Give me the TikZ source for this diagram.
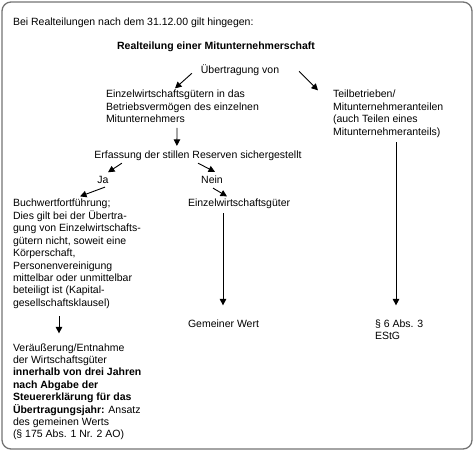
\documentclass[tikz,border=0pt]{standalone}
\usepackage{fontspec}
\setmainfont{Liberation Sans}
\usetikzlibrary{arrows.meta,calc}
\tikzset{
  txt/.style={inner sep=0pt, outer sep=0pt, align=left, anchor=base west},
  ctr/.style={inner sep=0pt, outer sep=0pt, align=center, anchor=base},
  ar/.style={-{Triangle[length=6.5bp,width=6.5bp]}, line width=0.9bp, draw=black},
  frame/.style={draw=black!55, line width=1.3bp, rounded corners=9bp},
}

\begin{document}
\begin{tikzpicture}[x=1bp,y=-1bp,
  font=\fontsize{10.5bp}{12.4bp}\selectfont,
  hdr/.style={ctr, font=\fontsize{10.5bp}{12.4bp}\selectfont\bfseries},
]
\useasboundingbox (0,0) rectangle (474,452);
\draw[frame] (2,2) rectangle (472,449);

% ===================== HEADER =====================
% (multi-line nodes sit on the baseline of their last line)
\node[txt] (intro) at (13,26) {Bei Realteilungen nach dem 31.12.00 gilt hingegen:};
\node[hdr] (head) at (216,50) {Realteilung einer Mitunternehmerschaft};
\node[ctr] (ueb) at (240,74) {Übertragung von};

% ===================== TWO BRANCHES =====================
\node[txt] (ein) at (106,122.8)
  {Einzelwirtschaftsgütern in das\\Betriebsvermögen des einzelnen\\Mitunternehmers};
\node[txt] (teil) at (333,135.2)
  {Teilbetrieben/\\Mitunternehmeranteilen\\(auch Teilen eines\\Mitunternehmeranteils)};
\draw[ar] ($(ueb.west)+(-9,2.6)$) -- ($(ein.north west)+(69,-2)$);
\draw[ar] ($(ueb.east)+(20,0.6)$) -- ($(teil.north west)+(-15,0)$);

% ===================== STILLE RESERVEN =====================
\node[ctr] (erf) at (198,159) {Erfassung der stillen Reserven sichergestellt};
\draw[ar] ($(ein.south west)+(71,5)$) -- ($(erf.north west)+(82.5,-5.5)$);
\node[ctr] (ja) at (103,184) {Ja};
\node[ctr] (nein) at (212,184) {Nein};
\draw[ar] ($(erf.south west)+(27.5,2)$) -- ($(ja.north)+(5,-4.5)$);
\draw[ar] ($(erf.south)+(0,2)$) -- ($(nein.north)+(3,-4.5)$);

% ===================== RESULTS =====================
\node[txt] (buch) at (13,306.2)
  {Buchwertfortführung;\\Dies gilt bei der Übertra-\\gung von Einzelwirtschafts-\\gütern nicht, soweit eine\\Körperschaft,\\Personenvereinigung\\mittelbar oder unmittelbar\\beteiligt ist (Kapital-\\gesellschaftsklausel)};
\node[txt] (ewg) at (188,207) {Einzelwirtschaftsgüter};
\draw[ar] ($(ja.south)+(2,3)$) -- ($(buch.north west)+(67,-3)$);
\draw[ar] ($(nein.south)+(1,4)$) -- ($(ewg.north west)+(39,-3)$);

\node[txt] (gem) at (188,327) {Gemeiner Wert};
\node[txt] (par6) at (375,339.4) {§ 6 Abs. 3\\EStG};
\draw[ar] ($(ewg.south west)+(35,4)$) -- ($(gem.north west)+(35,-14)$);
\draw[ar] ($(teil.south west)+(63,5)$) -- ($(par6.north west)+(21,-14)$);

\node[txt] (ver) at (13,437.8)
  {Veräußerung/Entnahme\\der Wirtschaftsgüter\\\textbf{innerhalb von drei Jahren}\\\textbf{nach Abgabe der}\\\textbf{Steuererklärung für das}\\\textbf{Übertragungsjahr:} Ansatz\\des gemeinen Werts\\(§ 175 Abs. 1 Nr. 2 AO)};
\draw[ar] ($(buch.south west)+(46,8)$) -- ($(ver.north west)+(46,-10)$);

\end{tikzpicture}
\end{document}
